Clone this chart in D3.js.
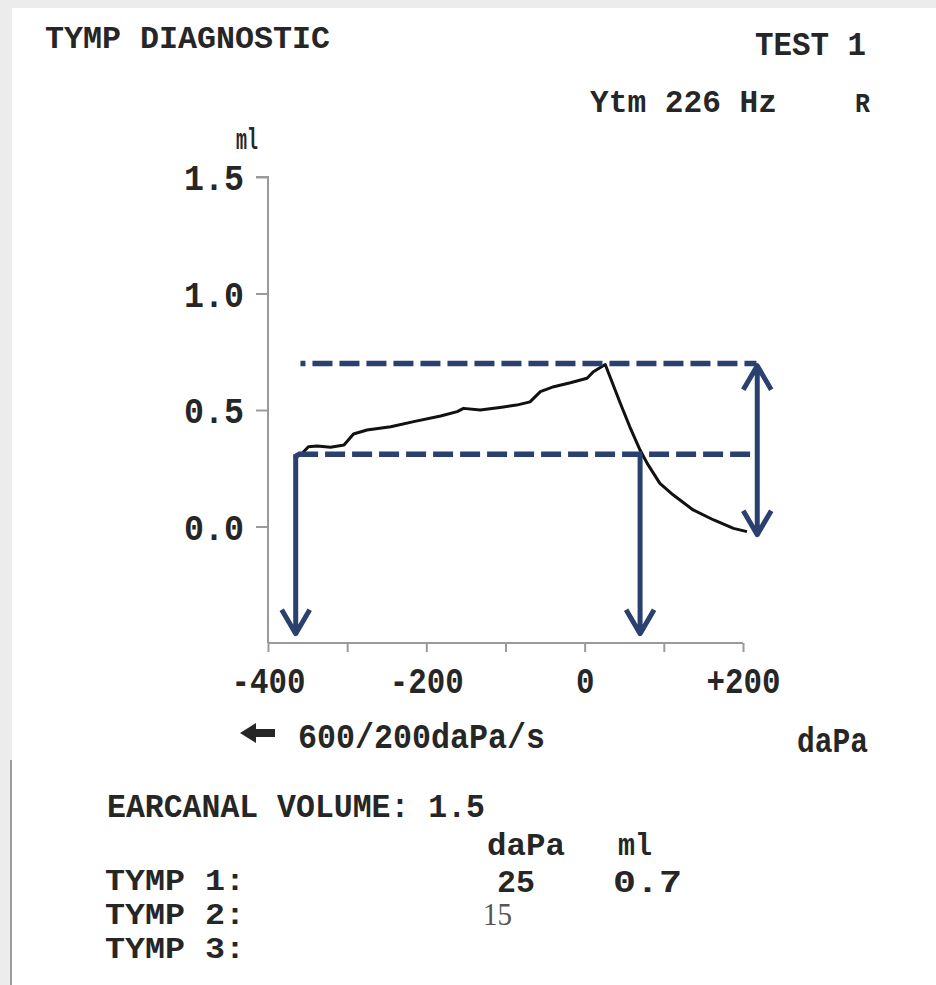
<!doctype html>
<html lang="en">
<head>
<meta charset="utf-8">
<title>Tymp diagnostic</title>
<style>
html, body {
	margin: 0;
	padding: 0;
	width: 100%;
	height: 100%;
	overflow: hidden;
	background: #ececec;
}
svg text {
	font-family: 'Liberation Mono', 'DejaVu Sans Mono', monospace;
	font-weight: bold;
	fill: #262626;
}
.axis path, .axis line {
	stroke: #9a9a9a;
	stroke-width: 2px;
}
.curve {
	fill: none;
	stroke: #111;
	stroke-width: 3px;
	stroke-linejoin: round;
}
.guide {
	fill: none;
	stroke: #2a4170;
	stroke-width: 5.5px;
	stroke-dasharray: 20 7;
}
.arrow {
	fill: none;
	stroke: #2a4170;
	stroke-width: 5px;
	stroke-linejoin: round;
}
</style>
</head>
<body>
<div id="chart"></div>
<script src="https://cdnjs.cloudflare.com/ajax/libs/d3/7.8.5/d3.min.js"></script>
<script>
// tympanogram trace
var pressure = [-358, -349, -338, -321, -304, -292, -275, -245, -216, -182, -161, -153, -132, -107, -86, -69, -56, -39, -18, 3, 11, 26, 32, 45, 57, 70, 79, 95, 112, 137, 163, 188, 205];
var volume = [0.31, 0.342, 0.345, 0.34, 0.35, 0.397, 0.414, 0.428, 0.45, 0.474, 0.493, 0.507, 0.50, 0.511, 0.521, 0.535, 0.579, 0.60, 0.617, 0.636, 0.664, 0.695, 0.643, 0.529, 0.428, 0.328, 0.271, 0.185, 0.135, 0.071, 0.028, -0.008, -0.022];

var yTicks = [0, 0.5, 1.0, 1.5];
var xTicks = [-400, -300, -200, -100, 0, 100, 200];
var xLabels = {'-400': '-400', '-200': '-200', '0': '0', '200': '+200'};

// dashed guide lines: level (ml), from / to (daPa)
var guideLevel = [0.70, 0.31];
var guideFrom = [-359, -362];
var guideTo = [217, 215];

// arrows: pressure (daPa), start / end (ml), heads
var arrowAt = [-365, 70, 218];
var arrowFrom = [0.31, 0.31, 0.69];
var arrowTo = [-0.46, -0.46, -0.035];
var arrowDouble = [false, false, true];

var W = 936, H = 985;

var svg = d3.select('#chart').append('svg')
	.attr('width', W)
	.attr('height', H);

// paper
svg.append('rect').attr('x', 12).attr('y', 8).attr('width', W - 12).attr('height', H - 8).attr('fill', '#fff');
svg.append('line').attr('x1', 11).attr('x2', 11).attr('y1', 760).attr('y2', H).attr('stroke', '#9c9c9c').attr('stroke-width', 2);

var x = d3.scaleLinear().domain([-400, 200]).range([268, 743]);
var y = d3.scaleLinear().domain([-0.5, 1.5]).range([643, 177]);

// printer font: narrow fixed cells, so fit each string to its measured width
var txt = function (s, tx, ty, size, len, opts) {
	opts = opts || {};
	var t = svg.append('text')
		.attr('x', tx)
		.attr('y', ty)
		.attr('font-size', size)
		.text(s);
	if (len) {
		t.attr('textLength', len).attr('lengthAdjust', 'spacingAndGlyphs');
	}
	if (opts.family) t.style('font-family', opts.family);
	if (opts.fill) t.style('fill', opts.fill);
	if (opts.normal) t.style('font-weight', 'normal');
	return t;
};

// header
txt('TYMP DIAGNOSTIC', 45, 48, 31, 285);
txt('TEST 1', 755, 55, 34, 111);
txt('Ytm 226 Hz', 590, 112, 32, 187);
txt('R', 855, 112, 27, 15);
txt('ml', 236, 149, 30, 22);

// axes
var yAxis = d3.axisLeft(y).tickValues(yTicks).tickSize(12).tickPadding(12)
	.tickFormat(d3.format('.1f'));
var gy = svg.append('g').attr('class', 'axis')
	.attr('transform', 'translate(' + x(-400) + ',0)')
	.call(yAxis);
gy.select('.domain').attr('d', 'M-12,' + y(1.5) + 'H0V' + y(-0.5));
gy.selectAll('text')
	.attr('font-size', 37)
	.attr('textLength', 60)
	.attr('lengthAdjust', 'spacingAndGlyphs')
	.attr('dy', '0.34em');

var xAxis = d3.axisBottom(x).tickValues(xTicks).tickSize(9).tickPadding(15)
	.tickFormat(function (d) { return xLabels[d] || ''; });
var gx = svg.append('g').attr('class', 'axis')
	.attr('transform', 'translate(0,' + y(-0.5) + ')')
	.call(xAxis);
gx.select('.domain').attr('d', 'M' + x(-400) + ',0H' + x(200));
gx.selectAll('text')
	.attr('font-size', 37)
	.each(function (d) {
		var s = xLabels[d] || '';
		d3.select(this).attr('textLength', s.length * 18.5).attr('lengthAdjust', 'spacingAndGlyphs');
	});

// trace
var line = d3.line()
	.x(function (d) { return x(d[0]); })
	.y(function (d) { return y(d[1]); })
	.curve(d3.curveLinear);
svg.append('path')
	.attr('class', 'curve')
	.attr('d', line(d3.zip(pressure, volume)));

// dashed guides
guideLevel.forEach(function (lv, i) {
	svg.append('line')
		.attr('class', 'guide')
		.attr('x1', x(guideFrom[i]))
		.attr('x2', x(guideTo[i]))
		.attr('y1', y(lv))
		.attr('y2', y(lv))
		.style('stroke-dashoffset', i === 0 ? 15 : 0);
});

// arrows
var head = function (px, py, dir) {
	return 'M' + (px - 14) + ',' + (py - dir * 24) + 'L' + px + ',' + py + 'L' + (px + 14) + ',' + (py - dir * 24);
};
arrowAt.forEach(function (p, i) {
	var ax = x(p), y0 = y(arrowFrom[i]), y1 = y(arrowTo[i]);
	var d = 'M' + ax + ',' + y0 + 'V' + y1 + head(ax, y1, 1);
	if (arrowDouble[i]) d += head(ax, y0, -1);
	svg.append('path').attr('class', 'arrow').attr('d', d);
});
// corner joining the left arrow to the lower guide
svg.append('path').attr('class', 'arrow')
	.attr('d', 'M' + x(arrowAt[0]) + ',' + (y(arrowFrom[0]) + 4) + 'Q' + x(arrowAt[0]) + ',' + y(arrowFrom[0]) + ' ' + (x(arrowAt[0]) + 5) + ',' + y(arrowFrom[0]));

// sweep note
svg.append('path')
	.attr('d', 'M240,733 L256,723 L256,729 L275,729 L275,737 L256,737 L256,743 Z')
	.attr('fill', '#262626');
txt('600/200daPa/s', 298, 748, 35, 247);
txt('daPa', 797, 752, 35, 71);

// results block
txt('EARCANAL VOLUME: 1.5', 107, 817, 34, 378);
txt('daPa', 487, 855, 31, 78);
txt('ml', 618, 855, 31, 34);
txt('TYMP 1:', 105, 890, 30, 140);
txt('25', 497, 892, 31, 38);
txt('0.7', 613, 892, 31, 69);
txt('TYMP 2:', 105, 924, 30, 140);
txt('15', 483, 925, 32, 29, {family: "'Liberation Serif', 'Times New Roman', serif", fill: '#555', normal: true});
txt('TYMP 3:', 105, 958, 30, 140);
</script>
</body>
</html>
